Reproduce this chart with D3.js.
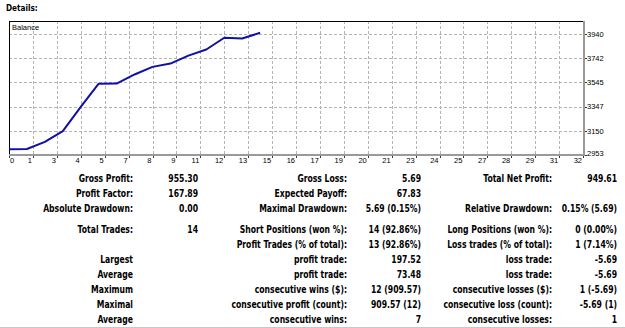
<!DOCTYPE html>
<html>
<head>
<meta charset="utf-8">
<script src="https://cdn.jsdelivr.net/npm/d3@7"></script>
<style>
  body { margin: 0; background: #fff; }
  svg { display: block; }
</style>
</head>
<body>
<div id="chart"></div>
<script>
// balance after each trade (initial deposit first)
const balance = [3000, 3001.50, 3059.50, 3147.50, 3345.02, 3535.02, 3535.82, 3609.82,
  3671.82, 3698.82, 3763.82, 3813.82, 3909.57, 3903.88, 3949.61];
const xTickLabels = [0, 1, 3, 4, 5, 7, 8, 9, 11, 12, 13, 15, 16, 17, 19, 20, 21, 23, 24, 25, 27, 28, 29, 31, 32];
const yTickLabels = [2953, 3150, 3347, 3545, 3742, 3940];

// report rows, three label/value pairs per row
const rowLabels1 = ["Gross Profit:", "Profit Factor:", "Absolute Drawdown:", "Total Trades:", "", "Largest", "Average", "Maximum", "Maximal", "Average"];
const rowValues1 = ["955.30", "167.89", "0.00", "14", "", "", "", "", "", ""];
const rowLabels2 = ["Gross Loss:", "Expected Payoff:", "Maximal Drawdown:", "Short Positions (won %):", "Profit Trades (% of total):",
  "profit trade:", "profit trade:", "consecutive wins ($):", "consecutive profit (count):", "consecutive wins:"];
const rowValues2 = ["5.69", "67.83", "5.69 (0.15%)", "14 (92.86%)", "13 (92.86%)", "197.52", "73.48", "12 (909.57)", "909.57 (12)", "7"];
const rowLabels3 = ["Total Net Profit:", "", "Relative Drawdown:", "Long Positions (won %):", "Loss trades (% of total):",
  "loss trade:", "loss trade:", "consecutive losses ($):", "consecutive loss (count):", "consecutive losses:"];
const rowValues3 = ["949.61", "", "0.15% (5.69)", "0 (0.00%)", "1 (7.14%)", "-5.69", "-5.69", "1 (-5.69)", "-5.69 (1)", "1"];
const rowY = [178.3, 193.3, 208.3, 229.3, 244.3, 259.3, 274.3, 289.3, 304.3, 319.3];

const width = 625, height = 328;
const svg = d3.select("#chart").append("svg")
  .attr("width", width)
  .attr("height", height);

const font = "'Liberation Sans', Arial, sans-serif";
const boldFont = "'DejaVu Sans', Verdana, sans-serif";
const squeeze = 0.77; // Tahoma-ish width from DejaVu

svg.append("text")
  .attr("transform", `translate(6,11) scale(${squeeze},1)`)
  .attr("font-family", boldFont).attr("font-weight", "bold").attr("font-size", 9.5)
  .text("Details:");

const plotLeft = 9, plotRight = 583, plotTop = 21, plotBottom = 155;
const x = d3.scaleLinear().domain([0, 32]).range([plotLeft, plotRight]);
const y = d3.scaleLinear().domain([2953, 3940]).range([plotBottom, 34]);

// grid
const grid = svg.append("g").attr("stroke", "#b4b4b4").attr("stroke-dasharray", "3,2").attr("shape-rendering", "crispEdges");
xTickLabels.forEach((t, i) => {
  if (i === 0 || i === xTickLabels.length - 1) return;
  const gx = Math.round(x(i * 32 / 24)) + 0.5;
  grid.append("line").attr("x1", gx).attr("x2", gx).attr("y1", plotTop).attr("y2", plotBottom);
});
yTickLabels.forEach((t, i) => {
  if (i === 0) return;
  const gy = Math.round(y(t)) + 0.5;
  grid.append("line").attr("x1", plotLeft).attr("x2", plotRight).attr("y1", gy).attr("y2", gy);
});

// frame
svg.append("line").attr("x1", plotLeft + 0.5).attr("x2", plotLeft + 0.5).attr("y1", plotTop).attr("y2", plotBottom)
  .attr("stroke", "#000");
svg.append("line").attr("x1", plotLeft).attr("x2", 585).attr("y1", plotTop + 0.5).attr("y2", plotTop + 0.5)
  .attr("stroke", "#000");
svg.append("line").attr("x1", plotLeft).attr("x2", 585).attr("y1", plotBottom).attr("y2", plotBottom)
  .attr("stroke", "#9a9a9a").attr("stroke-width", 2);
svg.append("line").attr("x1", 584).attr("x2", 584).attr("y1", plotTop).attr("y2", plotBottom + 1)
  .attr("stroke", "#9a9a9a").attr("stroke-width", 2);

svg.append("text")
  .attr("x", 12).attr("y", 30)
  .attr("font-family", font).attr("font-size", 7.5)
  .text("Balance");

// x ticks
const xt = svg.append("g").attr("font-family", "'Liberation Sans Narrow', " + font).attr("font-size", 7.5).attr("fill", "#000");
xTickLabels.forEach((t, i) => {
  const gx = x(i * 32 / 24);
  svg.append("line").attr("x1", Math.round(gx) + 0.5).attr("x2", Math.round(gx) + 0.5)
    .attr("y1", plotBottom + 1).attr("y2", plotBottom + 3).attr("stroke", "#333");
  xt.append("text")
    .attr("x", i === 0 ? gx + 1 : gx - 1)
    .attr("y", 163)
    .attr("text-anchor", i === 0 ? "start" : "end")
    .text(t);
});

// y ticks
const yt = svg.append("g").attr("font-family", "'Liberation Sans Narrow', " + font).attr("font-size", 7.5).attr("fill", "#000");
yTickLabels.forEach((t, i) => {
  const gy = y(t);
  svg.append("line").attr("x1", 585).attr("x2", 587).attr("y1", Math.round(gy) + 0.5).attr("y2", Math.round(gy) + 0.5)
    .attr("stroke", "#333");
  yt.append("text")
    .attr("x", 587)
    .attr("y", (i === 0 ? gy - 2 : gy) + 2.7)
    .text(t);
});

// balance line
const line = d3.line()
  .x((d, i) => x(i))
  .y(d => y(d));
svg.append("path")
  .datum(balance)
  .attr("d", line)
  .attr("fill", "none")
  .attr("stroke", "#1010a8")
  .attr("stroke-width", 2)
  .attr("stroke-linejoin", "round");

// report table
const table = svg.append("g")
  .attr("font-family", boldFont)
  .attr("font-weight", "bold")
  .attr("font-size", 10)
  .attr("fill", "#000")
  .attr("text-anchor", "end");

const cols = [
  [rowLabels1, 133], [rowValues1, 198],
  [rowLabels2, 347], [rowValues2, 421],
  [rowLabels3, 552], [rowValues3, 617]
];
cols.forEach(([texts, cx]) => {
  texts.forEach((s, i) => {
    if (!s) return;
    table.append("text")
      .attr("transform", `translate(${cx},${rowY[i] + 3.6}) scale(${squeeze},1)`)
      .text(s);
  });
});

svg.append("line").attr("x1", 0).attr("x2", width).attr("y1", 327.5).attr("y2", 327.5)
  .attr("stroke", "#c8c8c8");
</script>
</body>
</html>
